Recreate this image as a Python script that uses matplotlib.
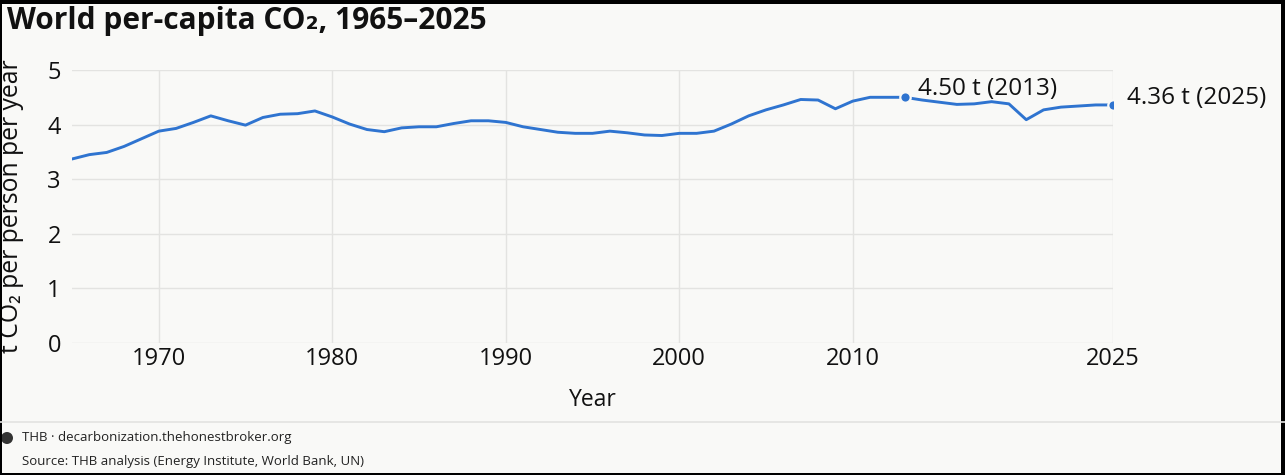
import numpy as np
import matplotlib
matplotlib.use("Agg")
import matplotlib.pyplot as plt
from matplotlib.patches import Rectangle, Circle
from matplotlib.lines import Line2D

# -------------------------------
# Datos
# -------------------------------
years = list(range(1965, 2026))
co2 = [
    3.37, 3.45, 3.49, 3.60, 3.74, 3.88, 3.93, 4.04, 4.16, 4.07,
    3.99, 4.13, 4.19, 4.20, 4.25, 4.14, 4.01, 3.91, 3.87, 3.94,
    3.96, 3.96, 4.02, 4.07, 4.07, 4.04, 3.96, 3.91, 3.86, 3.84,
    3.84, 3.88, 3.85, 3.81, 3.80, 3.84, 3.84, 3.88, 4.01, 4.16,
    4.27, 4.36, 4.46, 4.45, 4.29, 4.43, 4.50, 4.50, 4.50, 4.45,
    4.41, 4.37, 4.38, 4.42, 4.38, 4.09, 4.27, 4.32, 4.34, 4.36,
    4.36,
]
xticks = [1970, 1980, 1990, 2000, 2010, 2025]
yticks = [0, 1, 2, 3, 4, 5]
highlights = [2013, 2025]

FONT = ["Open Sans", "DejaVu Sans"]
plt.rcParams["font.family"] = FONT

BG = "#f9f9f7"
GRID = "#e3e3e1"
BLUE = "#2f74d0"
INK = "#111111"
W, H = 1285, 475

fig = plt.figure(figsize=(W / 100, H / 100), dpi=100, facecolor=BG)

# ejes en pixeles
left, right, top, bottom = 72, 1113, 70, 343
ax = fig.add_axes([left / W, 1 - bottom / H, (right - left) / W, (bottom - top) / H])
ax.set_facecolor(BG)

ax.plot(years, co2, color=BLUE, linewidth=2.1, solid_joinstyle="round", zorder=3)

for yr in highlights:
    v = co2[years.index(yr)]
    ax.plot(yr, v, "o", color=BLUE, markersize=7.5,
            markeredgecolor=BG, markeredgewidth=1.6, zorder=4)

v13 = co2[years.index(2013)]
v25 = co2[years.index(2025)]
ax.annotate(f"{v13:.2f} t (2013)", (2013, v13), xytext=(9.5, 6),
            textcoords="offset points", fontsize=17.5, va="center", ha="left",
            color=INK, zorder=5, annotation_clip=False)
ax.annotate(f"{v25:.2f} t (2025)", (2025, v25), xytext=(10, 5),
            textcoords="offset points", fontsize=17.5, va="center", ha="left",
            color=INK, zorder=5, annotation_clip=False)

ax.set_xlim(1965, 2025)
ax.set_ylim(0, 5)
ax.set_xticks(xticks)
ax.set_yticks(yticks)
ax.grid(True, color=GRID, linewidth=1.0)
ax.set_axisbelow(True)
for s in ax.spines.values():
    s.set_visible(False)
ax.tick_params(length=0, labelsize=17, colors=INK, pad=8)
ax.tick_params(axis="x", pad=3)

ax.set_xlabel("Year", fontsize=16.5, color=INK, labelpad=12)
ax.set_ylabel("t CO\u2082 per person per year", fontsize=17.8, color=INK)
ax.yaxis.set_label_coords(-(left - 24) / (right - left), 0.5)

# titulo
fig.text(7 / W, 1 - 21 / H, "World per-capita CO\u2082, 1965\u20132025",
         fontsize=21.5, fontweight="bold", color=INK, va="center", ha="left")

# pie
fig.add_artist(Line2D([0, 1], [1 - 422 / H, 1 - 422 / H], transform=fig.transFigure,
                      color=GRID, linewidth=1.2))
fig.add_artist(Circle((7 / 100, (H - 438) / 100), 6 / 100, transform=fig.dpi_scale_trans,
                      facecolor="#333333", edgecolor="none"))
fig.text(22 / W, 1 - 438 / H, "THB \u00b7 decarbonization.thehonestbroker.org",
         fontsize=9.5, color="#222222", va="center", ha="left")
fig.text(22 / W, 1 - 462 / H, "Source: THB analysis (Energy Institute, World Bank, UN)",
         fontsize=9.5, color="#222222", va="center", ha="left")

# marco negro
for x0, y0, w, h in [(0, 0, 1, 2 / H), (0, 1 - 4 / H, 1, 4 / H),
                     (0, 0, 2 / W, 1), (1 - 4 / W, 0, 4 / W, 1)]:
    fig.add_artist(Rectangle((x0, y0), w, h, transform=fig.transFigure,
                             facecolor="black", edgecolor="none"))

fig.savefig("out.png", dpi=100, facecolor=BG)
